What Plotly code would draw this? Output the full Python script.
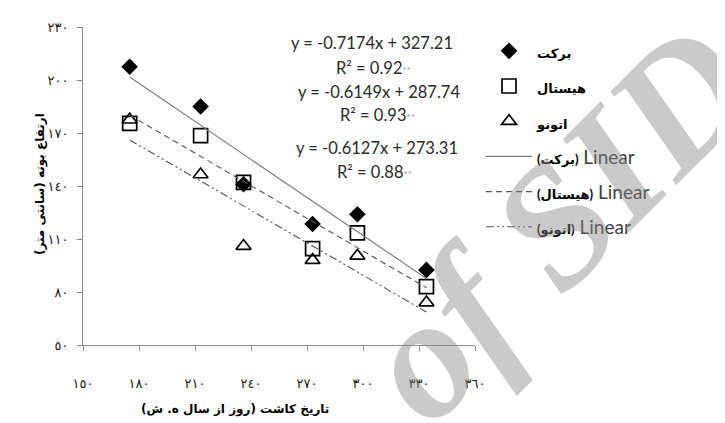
import plotly.graph_objects as go

# ---- data ----
planting_day = [175, 213, 236, 273, 297, 334]
barakat = [207.5, 185.0, 141.0, 118.5, 124.0, 92.5]
histal = [175.5, 168.5, 142.0, 104.5, 113.5, 83.0]
atono = [177.5, 146.5, 106.0, 98.0, 100.5, 74.0]

cultivars = ["برکت", "هیستال", "اتونو"]
slopes = [-0.7174, -0.6149, -0.6127]
intercepts = [327.21, 287.74, 273.31]
r_squared = ["0.92", "0.93", "0.88"]

x_tickvals = [150, 180, 210, 240, 270, 300, 330, 360]
x_ticktext = ["١٥٠", "١٨٠", "٢١٠", "٢٤٠", "٢٧٠", "٣٠٠", "٣٣٠", "٣٦٠"]
y_tickvals = [50, 80, 110, 140, 170, 200, 230]
y_ticktext = ["٥٠", "٨٠", "١١٠", "١٤٠", "١٧٠", "٢٠٠", "٢٣٠"]

x_title = "تاریخ کاشت (روز از سال ه. ش)\u200f"
y_title = "ارتفاع بوته (سانتی متر)\u200f"

# ---- layout geometry (page body has an 8px margin) ----
OFF = 8
W, H = 725 - OFF, 423 - OFF
ML, MT = 83 - OFF, 25 - OFF
MR = W - (475 - OFF)
MB = H - (345 - OFF)
PW, PH = W - ML - MR, H - MT - MB


def px_x(p):
    return (p - OFF - ML) / PW


def px_y(p):
    return (H - MB - (p - OFF)) / PH


fig = go.Figure()

series = [barakat, histal, atono]
symbols = ["diamond", "square-open", "triangle-up-open"]
sizes = [11, 14, 13]
for i, (vals, sym, sz) in enumerate(zip(series, symbols, sizes)):
    fig.add_trace(go.Scatter(
        x=planting_day, y=vals, mode="markers",
        name="<span style='font-size:13px;color:black'><b>" + cultivars[i] + "</b></span>",
        legendgroup="m%d" % i,
        marker=dict(symbol=sym, size=sz, color="black",
                    line=dict(color="black", width=1.7)),
    ))

line_styles = [
    dict(color="#7a7a7a", width=1.1, dash="solid"),
    dict(color="#555555", width=1.1, dash="6px,4px"),
    dict(color="#555555", width=1.1, dash="8px,3px,2px,3px,2px,3px"),
]
x_fit = [min(planting_day), max(planting_day)]
for i in range(3):
    y_fit = [slopes[i] * xv + intercepts[i] for xv in x_fit]
    fig.add_trace(go.Scatter(
        x=x_fit, y=y_fit, mode="lines",
        name="<span style='font-size:13px;color:black'><b>(" + cultivars[i] + ")</b></span> Linear",
        legendgroup="l%d" % i,
        line=line_styles[i],
    ))

annotations = []
eq_pos = [((372, 41), (373, 66)), ((379, 90), (377, 114)), ((377, 147), (374, 171))]
for i in range(3):
    sign = "+" if intercepts[i] >= 0 else "-"
    eq = "y = %.4fx %s %.2f" % (slopes[i], sign, abs(intercepts[i]))
    r2 = "R² = " + r_squared[i] + "<span style='font-size:10px;color:#9a9a9a'>**</span>"
    for txt, (px, py) in zip([eq, r2], eq_pos[i]):
        annotations.append(dict(
            text=txt, x=px_x(px), y=px_y(py), xref="paper", yref="paper",
            xanchor="center", yanchor="middle", showarrow=False,
            font=dict(family="Lato, Open Sans, sans-serif", size=16.5, color="#2a2a2a"),
        ))

annotations.append(dict(
    text="<b>" + x_title + "</b>", x=px_x(235), y=px_y(410), xref="paper", yref="paper",
    xanchor="center", yanchor="middle", showarrow=False,
    font=dict(family="DejaVu Sans", size=12, color="black"),
))
annotations.append(dict(
    text="<b>" + y_title + "</b>", x=px_x(40), y=px_y(183), xref="paper", yref="paper",
    xanchor="center", yanchor="middle", showarrow=False, textangle=-90,
    font=dict(family="DejaVu Sans", size=12, color="black"),
))

# watermark
annotations.append(dict(
    text="<b><i>of SID</i></b>", x=px_x(556), y=px_y(222), xref="paper", yref="paper",
    xanchor="center", yanchor="middle", showarrow=False, textangle=-45,
    font=dict(family="Liberation Serif", size=172, color="rgba(137,137,137,0.45)"),
))

axis_common = dict(
    showline=True, linecolor="#8c8c8c", linewidth=1,
    ticks="outside", ticklen=5, tickcolor="#8c8c8c", tickwidth=1,
    showgrid=False, zeroline=False,
    tickfont=dict(family="DejaVu Sans", size=13, color="#222222"),
)

fig.update_layout(
    width=W, height=H,
    margin=dict(l=ML, r=MR, t=MT, b=MB),
    paper_bgcolor="white", plot_bgcolor="white",
    xaxis=dict(range=[150, 360], tickvals=x_tickvals, ticktext=x_ticktext,
               ticklabelstandoff=21, **axis_common),
    yaxis=dict(range=[50, 230], tickvals=y_tickvals, ticktext=y_ticktext,
               ticklabelstandoff=6, **axis_common),
    showlegend=True,
    legend=dict(x=px_x(481), y=px_y(30), xanchor="left", yanchor="top",
                font=dict(family="Lato, DejaVu Sans", size=19, color="#404040"),
                tracegroupgap=7.5, itemwidth=46, bgcolor="rgba(0,0,0,0)"),
    annotations=annotations,
)

fig.write_html("out.html")
